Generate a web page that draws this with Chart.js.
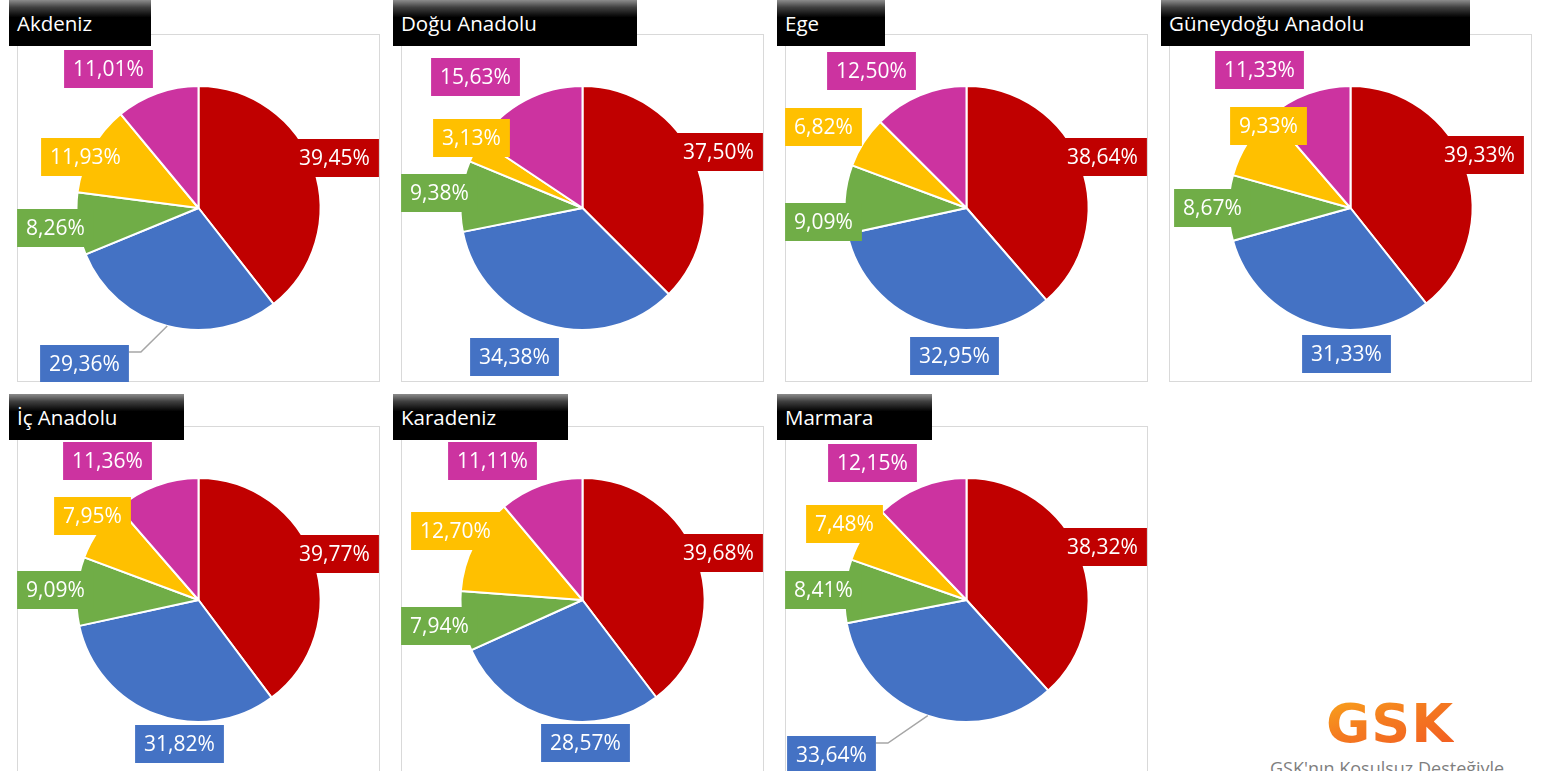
<!DOCTYPE html>
<html lang="tr">
<head>
<meta charset="utf-8">
<title>Bölgelere göre dağılım</title>
<script src="https://cdn.jsdelivr.net/npm/chart.js@4.4.1/dist/chart.umd.min.js"></script>
<style>
    html, body { margin: 0; padding: 0; background: #fff; }
    #page { position: relative; width: 1544px; height: 771px; overflow: hidden; font-family: "Open Sans", sans-serif; }
    .frame { position: absolute; box-sizing: border-box; border: 1px solid #d9d9d9; }
    .chart { position: absolute; }
    .title {
        position: absolute; height: 46px; line-height: 47px; padding-left: 8px; box-sizing: border-box;
        color: #fff; font-size: 20.5px; white-space: nowrap;
        background: linear-gradient(#8c8c8c 0%, #404040 16%, #000 38%, #000 100%);
    }
    #logo {
        position: absolute; left: 1326px; top: 697px; font: bold 54px/1 "DejaVu Sans", sans-serif; letter-spacing: 1px;
        background: linear-gradient(160deg, #f9a51b 0%, #f47a20 45%, #f25a22 100%);
        -webkit-background-clip: text; background-clip: text; color: transparent;
    }
    #caption { position: absolute; left: 1270px; top: 759px; font-size: 18px; line-height: 1; color: #7f7f7f; white-space: nowrap; }
</style>
</head>
<body>
<div id="page">
    <div id="logo">GSK</div>
    <div id="caption">GSK'nın Koşulsuz Desteğiyle</div>
</div>
<script>
// bölge başına dilim yüzdeleri (kırmızı, mavi, yeşil, sarı, mor)
const regions = ['Akdeniz', 'Doğu Anadolu', 'Ege', 'Güneydoğu Anadolu', 'İç Anadolu', 'Karadeniz', 'Marmara'];
const akdeniz = [39.45, 29.36, 8.26, 11.93, 11.01];
const doguAnadolu = [37.50, 34.38, 9.38, 3.13, 15.63];
const ege = [38.64, 32.95, 9.09, 6.82, 12.50];
const guneydoguAnadolu = [39.33, 31.33, 8.67, 9.33, 11.33];
const icAnadolu = [39.77, 31.82, 9.09, 7.95, 11.36];
const karadeniz = [39.68, 28.57, 7.94, 12.70, 11.11];
const marmara = [38.32, 33.64, 8.41, 7.48, 12.15];
const regionValues = [akdeniz, doguAnadolu, ege, guneydoguAnadolu, icAnadolu, karadeniz, marmara];

const sliceColors = ['#C00000', '#4472C4', '#70AD47', '#FFC000', '#CC33A0'];

// yerleşim: çerçeve konumları, başlık genişlikleri
const frameLeft = [17, 401, 785, 1169];
const frameTop = [34, 426];
const titleTop = [0, 394];
const frameW = 363, frameH = 348;
const titleWidths = [142, 244, 108, 309, 175, 175, 155];

// etiket kutularının pasta merkezine göre kaydırması (px)
const labelOffsets = [
    [[136, -50], [-114, 156], [-143, 20], [-113, -51], [-90, -139]],
    [[136, -56], [-68, 149], [-143, -15], [-111, -70], [-107, -131]],
    [[136, -51], [-12, 148], [-143, 14], [-143, -81], [-95, -137]],
    [[129, -53], [-4, 146], [-138, 0], [-82, -82], [-91, -138]],
    [[136, -46], [-19, 144], [-143, -10], [-106, -84], [-91, -139]],
    [[136, -47], [3, 143], [-143, 26], [-127, -69], [-90, -139]],
    [[136, -53], [-135, 155], [-143, -10], [-122, -76], [-94, -137]]
];
// kılavuz çizgisi olan etiket (mavi dilim)
const leaderLabels = [1, -1, -1, -1, -1, -1, 1];

function formatPct(v) {
    return v.toFixed(2).replace('.', ',') + '%';
}

// dilim değerlerini renkli kutular içinde yazan eklenti
function boxLabelPlugin(offsets, leaderIndex) {
    return {
        id: 'boxLabels',
        afterDatasetsDraw(chart) {
            const ctx = chart.ctx;
            const meta = chart.getDatasetMeta(0);
            const ds = chart.data.datasets[0];
            ctx.save();
            ctx.font = '21px "Open Sans"';
            ctx.textAlign = 'center';
            ctx.textBaseline = 'middle';
            meta.data.forEach((arc, i) => {
                const p = arc.getProps(['x', 'y', 'startAngle', 'endAngle', 'outerRadius'], true);
                const text = formatPct(ds.data[i]);
                const w = ctx.measureText(text).width + 18;
                const h = 38;
                const cx = p.x + offsets[i][0];
                const cy = p.y + offsets[i][1];
                const left = cx - w / 2;
                const top = cy - h / 2;

                if (leaderIndex === i) {
                    const mid = (p.startAngle + p.endAngle) / 2;
                    ctx.strokeStyle = '#a6a6a6';
                    ctx.lineWidth = 1.5;
                    ctx.beginPath();
                    ctx.moveTo(p.x + p.outerRadius * Math.cos(mid), p.y + p.outerRadius * Math.sin(mid));
                    ctx.lineTo(left + w + 12, top + 7);
                    ctx.lineTo(left + w, top + 7);
                    ctx.stroke();
                }

                ctx.fillStyle = ds.backgroundColor[i];
                ctx.fillRect(left, top, w, h);
                ctx.fillStyle = '#fff';
                ctx.fillText(text, cx, cy + 1);
            });
            ctx.restore();
        }
    };
}

onload = () => {
    const page = document.getElementById('page');

    regions.forEach((name, k) => {
        const col = k % 4;
        const row = Math.floor(k / 4);
        const x = frameLeft[col];
        const y = frameTop[row];

        const frame = document.createElement('div');
        frame.className = 'frame';
        Object.assign(frame.style, { left: x + 'px', top: y + 'px', width: frameW + 'px', height: frameH + 'px' });
        page.appendChild(frame);

        const canvas = document.createElement('canvas');
        canvas.className = 'chart';
        canvas.width = frameW;
        canvas.height = frameH;
        Object.assign(canvas.style, { left: x + 'px', top: y + 'px', width: frameW + 'px', height: frameH + 'px' });
        page.appendChild(canvas);

        const title = document.createElement('div');
        title.className = 'title';
        title.textContent = name;
        Object.assign(title.style, { left: (x - 8) + 'px', top: titleTop[row] + 'px', width: titleWidths[k] + 'px' });
        page.appendChild(title);

        new Chart(canvas.getContext('2d'), {
            type: 'pie',
            data: {
                datasets: [{
                    data: regionValues[k],
                    backgroundColor: sliceColors,
                    borderColor: '#ffffff',
                    borderWidth: 2
                }]
            },
            options: {
                responsive: false,
                animation: false,
                events: [],
                radius: 122,
                layout: { padding: 0 },
                plugins: {
                    legend: { display: false },
                    tooltip: { enabled: false }
                }
            },
            plugins: [boxLabelPlugin(labelOffsets[k], leaderLabels[k] === 1 ? 1 : -1)]
        });
    });
}
</script>
</body>
</html>
